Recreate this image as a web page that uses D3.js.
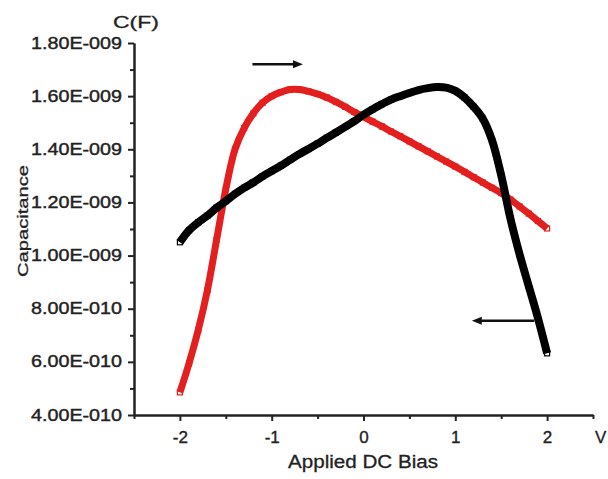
<!DOCTYPE html>
<html>
<head>
<meta charset="utf-8">
<script src="https://cdn.jsdelivr.net/npm/d3@7"></script>
<style>
  html, body { margin: 0; padding: 0; background: #fff; }
  svg { display: block; }
  text { font-family: "Liberation Sans", Arial, sans-serif; fill: #222; }
</style>
</head>
<body>
<svg id="chart" width="608" height="479"></svg>
<script>
// ---- Data ----
const biasV = [-2.0,-1.9,-1.8,-1.7,-1.6,-1.5,-1.4,-1.3,-1.2,-1.1,-1.0,-0.9,-0.8,-0.7,-0.6,-0.5,-0.4,-0.3,-0.2,-0.1,
               0.0,0.1,0.2,0.3,0.4,0.5,0.6,0.7,0.8,0.9,1.0,1.1,1.2,1.3,1.4,1.5,1.6,1.7,1.8,1.9,2.0];
// forward sweep (red), capacitance in nF
const forwardC = [0.485,0.595,0.720,0.870,1.060,1.250,1.400,1.480,1.535,1.575,1.600,1.615,1.625,1.625,1.618,1.608,1.595,1.578,1.560,1.540,
                  1.522,1.504,1.486,1.467,1.449,1.430,1.411,1.392,1.373,1.354,1.335,1.315,1.295,1.275,1.255,1.235,1.211,1.185,1.158,1.130,1.102];
// reverse sweep (black), capacitance in nF
const reverseC = [1.050,1.095,1.125,1.150,1.180,1.205,1.232,1.255,1.275,1.298,1.318,1.338,1.360,1.382,1.401,1.421,1.443,1.463,1.484,1.506,
                  1.530,1.551,1.570,1.587,1.600,1.612,1.623,1.630,1.634,1.632,1.620,1.595,1.560,1.515,1.434,1.302,1.140,1.005,0.885,0.765,0.632];
const xTickValues = [-2,-1,0,1,2];
const xMinorTicks = [-2.5,-1.5,-0.5,0.5,1.5,2.5];
const yTickValues = [4e-10,6e-10,8e-10,1.0e-9,1.2e-9,1.4e-9,1.6e-9,1.8e-9];
const yTickLabels = ["4.00E-010","6.00E-010","8.00E-010","1.00E-009","1.20E-009","1.40E-009","1.60E-009","1.80E-009"];
const yMinorTicks = [5e-10,7e-10,9e-10,1.1e-9,1.3e-9,1.5e-9,1.7e-9];
// sweep-direction arrows: [xStart, xEnd, C] (head at xEnd)
const arrowForward = [-1.21, -0.66, 1.72e-9];
const arrowReverse = [1.86, 1.18, 0.755e-9];

const svg = d3.select("#chart");
const x = d3.scaleLinear().domain([-2.5, 2.5]).range([134, 593]);
const y = d3.scaleLinear().domain([4e-10, 1.8e-9]).range([415, 43]);

const fwd = biasV.map((v, i) => ({x: v, c: forwardC[i] * 1e-9}));
const rev = biasV.map((v, i) => ({x: v, c: reverseC[i] * 1e-9}));

const line = d3.line().x(d => x(d.x)).y(d => y(d.c)).curve(d3.curveCatmullRom.alpha(0.5));

function drawSeries(data, color, width) {
  svg.append("path").datum(data)
    .attr("d", line).attr("fill", "none")
    .attr("stroke", color).attr("stroke-width", width)
    .attr("stroke-linejoin", "round").attr("stroke-linecap", "butt");
  svg.append("g").selectAll("rect").data(data).join("rect")
    .attr("x", d => x(d.x) - 2.5).attr("y", d => y(d.c) - 2.5)
    .attr("width", 5).attr("height", 5)
    .attr("fill", "none").attr("stroke", color).attr("stroke-width", 1.2);
}
drawSeries(fwd, "#e3201f", 7);
drawSeries(rev, "#000", 8);

// ---- Axes ----
const axisColor = "#222";
const xAxis = svg.append("g").attr("transform", "translate(0,415)")
  .call(d3.axisBottom(x).tickValues(xTickValues).tickSize(6).tickSizeOuter(0).tickPadding(10)
        .tickFormat(d => d));
const xMinor = svg.append("g").attr("transform", "translate(0,415)")
  .call(d3.axisBottom(x).tickValues(xMinorTicks).tickSize(4).tickSizeOuter(0).tickFormat(""));
const yAxis = svg.append("g").attr("transform", "translate(134,0)")
  .call(d3.axisLeft(y).tickValues(yTickValues).tickSize(6).tickSizeOuter(0).tickPadding(6)
        .tickFormat((d, i) => yTickLabels[i]));
const yMinor = svg.append("g").attr("transform", "translate(134,0)")
  .call(d3.axisLeft(y).tickValues(yMinorTicks).tickSize(4).tickSizeOuter(0).tickFormat(""));

[xAxis, xMinor, yAxis, yMinor].forEach(g => {
  g.select(".domain").attr("stroke", axisColor).attr("stroke-width", 2);
  g.selectAll(".tick line").attr("stroke", axisColor).attr("stroke-width", 2);
});
xAxis.selectAll(".tick text").attr("font-size", 17).attr("fill", "#222")
  .attr("stroke", "#222").attr("stroke-width", 0.35)
  .attr("font-family", "Liberation Sans, Arial, sans-serif");
yAxis.selectAll(".tick text").attr("font-size", 16).attr("fill", "#222")
  .attr("stroke", "#222").attr("stroke-width", 0.4)
  .attr("font-family", "Liberation Sans, Arial, sans-serif")
  .attr("textLength", 91).attr("lengthAdjust", "spacingAndGlyphs");

// ---- Titles ----
svg.append("text").attr("x", 363).attr("y", 468).attr("text-anchor", "middle")
  .attr("font-size", 18).attr("textLength", 150).attr("lengthAdjust", "spacingAndGlyphs")
  .attr("stroke", "#222").attr("stroke-width", 0.3)
  .text("Applied DC Bias");
svg.append("text").attr("transform", "translate(28,221) rotate(-90)").attr("text-anchor", "middle")
  .attr("font-size", 15).attr("textLength", 112).attr("lengthAdjust", "spacingAndGlyphs")
  .attr("stroke", "#222").attr("stroke-width", 0.3)
  .text("Capacitance");
svg.append("text").attr("x", 113).attr("y", 28)
  .attr("font-size", 17).attr("textLength", 46).attr("lengthAdjust", "spacingAndGlyphs")
  .attr("stroke", "#222").attr("stroke-width", 0.3)
  .text("C(F)");
svg.append("text").attr("x", 595).attr("y", 443)
  .attr("font-size", 17).attr("stroke", "#222").attr("stroke-width", 0.3).text("V");

// ---- Sweep arrows ----
function arrow(a) {
  const x0 = x(a[0]), x1 = x(a[1]), yy = y(a[2]);
  const dir = Math.sign(x1 - x0);
  svg.append("line").attr("x1", x0).attr("y1", yy).attr("x2", x1 - dir * 6).attr("y2", yy)
    .attr("stroke", "#111").attr("stroke-width", 2.5);
  svg.append("path")
    .attr("d", `M${x1},${yy} L${x1 - dir * 10},${yy - 4} L${x1 - dir * 10},${yy + 4} Z`)
    .attr("fill", "#111");
}
arrow(arrowForward);
arrow(arrowReverse);
</script>
</body>
</html>
